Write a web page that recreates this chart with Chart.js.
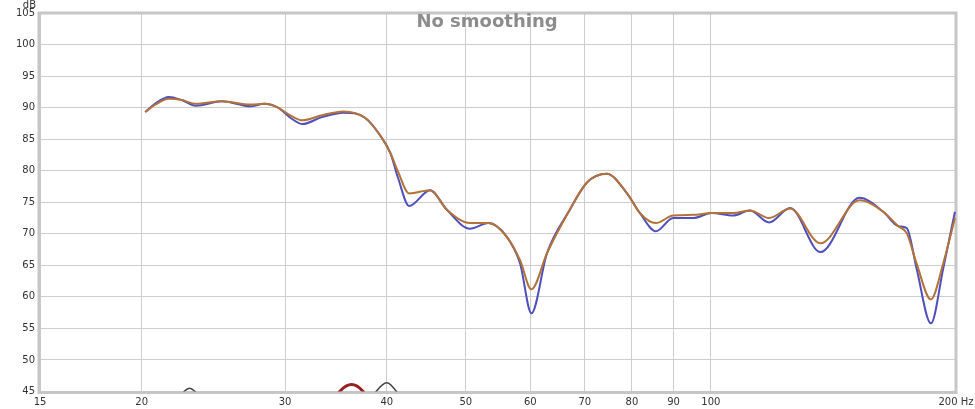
<!DOCTYPE html>
<html>
<head>
<meta charset="utf-8">
<script src="https://cdn.jsdelivr.net/npm/chart.js@4.4.1/dist/chart.umd.min.js"></script>
<style>
  body { margin: 0; background: #fff; }
  canvas { display: block; }
</style>
</head>
<body>
<canvas id="myChart" width="975" height="409"></canvas>
<script>
// Frequências (Hz) e níveis (dB)
const freqs = [20.2, 20.8, 21.6, 22.4, 23.3, 25.1, 27.2, 28.3, 29.4, 30.6, 31.5, 33.3, 35.4, 37.6, 39.2, 40.4, 41.3, 42.6, 45.2, 47.4,
  50.6, 53.3, 56.1, 58.3, 60.2, 62.9, 67.1, 70.4, 74.5, 78.8, 81.8, 85.6, 89.9, 95.2, 100.2, 106.5, 111.7, 117.9, 125.1, 136.3,
  152.2, 162.8, 169.9, 174.0, 178.9, 186.3, 192.9, 199.4];

const blueDb = [89.3, 90.7, 91.7, 91.2, 90.3, 91.0, 90.2, 90.6, 90.0, 88.2, 87.4, 88.5, 89.2, 88.4, 85.7, 82.8, 78.8, 74.4, 76.9, 73.8,
  70.8, 71.7, 69.6, 65.3, 57.4, 66.9, 73.8, 78.1, 79.5, 76.5, 73.3, 70.4, 72.5, 72.5, 73.3, 72.9, 73.7, 71.8, 74.1, 67.1,
  75.7, 73.5, 71.2, 70.9, 64.5, 55.8, 64.5, 73.5];

const orangeDb = [89.3, 90.5, 91.4, 91.2, 90.6, 91.0, 90.5, 90.6, 90.0, 88.6, 88.0, 88.8, 89.4, 88.4, 85.7, 82.8, 79.8, 76.4, 76.9, 73.8,
  71.7, 71.7, 69.6, 65.8, 61.2, 66.9, 73.8, 78.1, 79.5, 76.5, 73.3, 71.7, 72.9, 73.0, 73.3, 73.3, 73.7, 72.5, 74.0, 68.5,
  75.3, 73.5, 71.2, 70.1, 65.3, 59.6, 65.3, 72.5];

// pequenas curvas no rodapé
const bumpAFreqs = [22.2, 22.55, 22.9, 23.25, 23.6];
const bumpADb = [44.0, 45.0, 45.5, 45.0, 44.0];
const bumpBFreqs = [34.4, 35.0, 36.2, 37.4, 38.0];
const bumpBDb = [43.5, 45.0, 46.1, 45.0, 43.5];
const bumpCFreqs = [38.2, 38.8, 40.0, 41.1, 41.7];
const bumpCDb = [43.5, 45.0, 46.4, 45.0, 43.5];

const xTicks = [15, 20, 30, 40, 50, 60, 70, 80, 90, 100, 200];

function pts(xs, ys) {
  return xs.map((x, i) => ({ x: x, y: ys[i] }));
}

// moldura cinza e textos extras
const framePlugin = {
  id: 'frame',
  beforeDatasetsDraw(chart) {
    const a = chart.chartArea;
    const c = chart.ctx;
    c.save();
    c.strokeStyle = '#c6c6c6';
    c.lineWidth = 3;
    c.strokeRect(a.left - 1, a.top, a.right - a.left + 1, a.bottom - a.top + 1);
    c.restore();
  },
  afterDraw(chart) {
    const a = chart.chartArea;
    const c = chart.ctx;
    c.save();
    c.fillStyle = '#8c8c8c';
    c.font = 'bold 18px "DejaVu Sans"';
    c.textAlign = 'center';
    c.textBaseline = 'middle';
    c.fillText('No smoothing', (a.left + a.right) / 2 - 11, 22);
    c.fillStyle = '#333';
    c.font = '10px "DejaVu Sans"';
    c.textAlign = 'right';
    c.textBaseline = 'alphabetic';
    c.fillText('dB', a.left - 4, 8);
    c.restore();
  }
};

const ctx = document.getElementById('myChart').getContext('2d');
const myChart = new Chart(ctx, {
  type: 'line',
  data: {
    datasets: [
      {
        data: pts(freqs, orangeDb),
        borderColor: '#b27238',
        borderWidth: 2,
        pointRadius: 0,
        cubicInterpolationMode: 'monotone'
      },
      {
        data: pts(freqs, blueDb),
        borderColor: '#4f4fbe',
        borderWidth: 2,
        pointRadius: 0,
        cubicInterpolationMode: 'monotone'
      },
      {
        data: pts(bumpAFreqs, bumpADb),
        borderColor: '#444',
        borderWidth: 1.5,
        pointRadius: 0,
        cubicInterpolationMode: 'monotone'
      },
      {
        data: pts(bumpBFreqs, bumpBDb),
        borderColor: '#9a1f1f',
        borderWidth: 3,
        pointRadius: 0,
        cubicInterpolationMode: 'monotone'
      },
      {
        data: pts(bumpCFreqs, bumpCDb),
        borderColor: '#444',
        borderWidth: 1.5,
        pointRadius: 0,
        cubicInterpolationMode: 'monotone'
      }
    ]
  },
  options: {
    responsive: false,
    animation: false,
    layout: {
      padding: { top: 13, right: 19, left: 0, bottom: 0 }
    },
    plugins: {
      legend: { display: false },
      tooltip: { enabled: false },
      title: { display: false }
    },
    scales: {
      x: {
        type: 'logarithmic',
        min: 15,
        max: 200,
        afterBuildTicks(scale) {
          scale.ticks = xTicks.map(v => ({ value: v }));
        },
        afterFit(scale) {
          scale.height = 17.5;
          scale.paddingLeft = 0;
          scale.paddingRight = 0;
        },
        ticks: {
          autoSkip: false,
          maxRotation: 0,
          padding: 5,
          color: '#333',
          font: { family: 'DejaVu Sans', size: 10 },
          callback: function (v) {
            return v === 200 ? '200 Hz' : String(v);
          }
        },
        grid: {
          color: '#cdcdcd',
          lineWidth: 1,
          drawTicks: false
        },
        border: { display: false }
      },
      y: {
        min: 45,
        max: 105,
        afterFit(scale) {
          scale.width = 40;
          scale.paddingTop = 0;
          scale.paddingBottom = 0;
        },
        ticks: {
          stepSize: 5,
          padding: 5,
          color: '#333',
          font: { family: 'DejaVu Sans', size: 10 }
        },
        grid: {
          color: '#cdcdcd',
          lineWidth: 1,
          drawTicks: false
        },
        border: { display: false }
      }
    }
  },
  plugins: [framePlugin]
});
</script>
</body>
</html>
